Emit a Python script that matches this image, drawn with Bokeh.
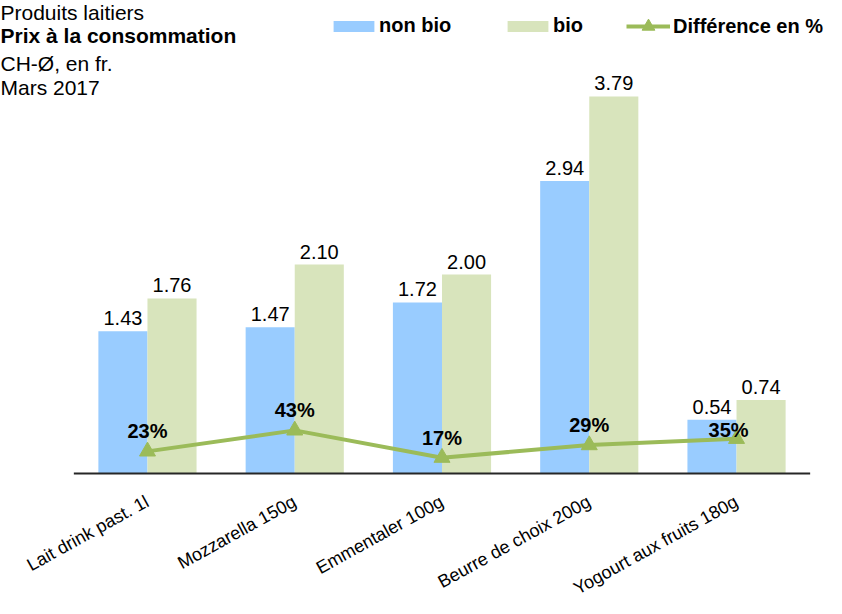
import numpy as np
from bokeh.plotting import figure
from bokeh.models import ColumnDataSource, Range1d, Legend, LegendItem, Label
from bokeh.core.properties import value
from bokeh.transform import dodge
from bokeh.embed import file_html
from bokeh.resources import INLINE

# ---------------- data ----------------
categories = ["Lait drink past. 1l", "Mozzarella 150g", "Emmentaler 100g",
              "Beurre de choix 200g", "Yogourt aux fruits 180g"]
non_bio = [1.43, 1.47, 1.72, 2.94, 0.54]
bio = [1.76, 2.10, 2.00, 3.79, 0.74]
diff_pct = [23, 43, 17, 29, 35]
series_names = ["non bio", "bio", "Différence en %"]
title_lines = ["Produits laitiers", "Prix à la consommation", "CH-Ø, en fr.", "Mars 2017"]

# ---------------- style / layout ----------------
FONT = value("Liberation Sans")
C_NONBIO = "#99CCFF"
C_BIO = "#D8E4BC"
C_LINE = "#9BBB59"
W, H = 826, 598
pct_label_gap = [20, 20, 20, 20, 9]      # px above the marker
pct_label_dx = [0, 0, 0, 0, -8]

n = len(categories)
xs = np.arange(n)
src = ColumnDataSource(dict(
    x=xs, cat=categories, non_bio=non_bio, bio=bio, diff=diff_pct,
    nb_lbl=[f"{v:.2f}" for v in non_bio],
    b_lbl=[f"{v:.2f}" for v in bio],
    d_lbl=[f"{v}%" for v in diff_pct],
    d_off=[-g for g in pct_label_gap],
    d_dx=pct_label_dx,
))

p = figure(width=W, height=H, x_range=Range1d(-0.998, 4.611), y_range=Range1d(-1.256, 4.754),
           x_axis_location=None, y_axis_location=None, min_border=0,
           toolbar_location=None, output_backend="svg", outline_line_color=None)
p.extra_y_ranges = {"pct": Range1d(-117.1, 452.4)}
p.xgrid.visible = False
p.ygrid.visible = False

r_nb = p.vbar(x=dodge("x", -1/6), top="non_bio", width=1/3, source=src,
              fill_color=C_NONBIO, line_color=None)
r_b = p.vbar(x=dodge("x", 1/6), top="bio", width=1/3, source=src,
             fill_color=C_BIO, line_color=None)

# baseline
p.segment(x0=[xs[0] - 0.5], x1=[xs[-1] + 0.5], y0=[0], y1=[0],
          line_color="#262626", line_width=2)

# value labels
p.text(x=dodge("x", -1/6), y="non_bio", text="nb_lbl", source=src, text_font=FONT,
       text_font_size="20px", text_align="center", text_baseline="alphabetic",
       y_offset=-13, text_color="#000000")
p.text(x=dodge("x", 1/6), y="bio", text="b_lbl", source=src, text_font=FONT,
       text_font_size="20px", text_align="center", text_baseline="alphabetic",
       y_offset=-13, text_color="#000000")

# difference line
r_line = p.line(x="x", y="diff", source=src, y_range_name="pct",
                line_color=C_LINE, line_width=4)
r_tri = p.scatter(x="x", y="diff", source=src, y_range_name="pct", marker="triangle",
                  size=16, fill_color=C_LINE, line_color=C_LINE)
p.text(x="x", y="diff", text="d_lbl", source=src, y_range_name="pct", text_font=FONT,
       text_font_size="20px", text_font_style="bold", text_align="center",
       text_baseline="alphabetic", y_offset="d_off", x_offset="d_dx", text_color="#000000")

# category labels
p.text(x="x", y=0, text="cat", source=src, text_font=FONT, text_font_size="18px",
       angle=np.deg2rad(29), text_align="right", text_baseline="top",
       x_offset=-5, y_offset=18, text_color="#000000")

# legends
def mk_legend(label, rends, loc, gw, gh, standoff):
    lg = Legend(items=[LegendItem(label=label, renderers=rends)], location=loc,
                glyph_width=gw, glyph_height=gh, label_standoff=standoff,
                padding=0, margin=0, border_line_color=None, background_fill_alpha=0,
                label_text_font="Liberation Sans", label_text_font_size="20px",
                label_text_font_style="bold", label_text_color="#000000")
    p.add_layout(lg)

mk_legend(series_names[0], [r_nb], (328, 561), 51, 14, 0)
mk_legend(series_names[1], [r_b], (502, 561), 51, 14, 0)
mk_legend(series_names[2], [r_line, r_tri], (626, 556), 44, 32, 3)

# title block (box tops, px from top of the figure)
title_tops = [0, 23, 51, 75]
for i, (t, yt) in enumerate(zip(title_lines, title_tops)):
    p.add_layout(Label(x=0, y=H - yt, x_units="screen", y_units="screen", text=t,
                       text_font="Liberation Sans", text_font_size="21px",
                       text_font_style="bold" if i == 1 else "normal",
                       text_align="left", text_baseline="top", text_color="#000000"))

open("out.html", "w").write(file_html(p, INLINE))
